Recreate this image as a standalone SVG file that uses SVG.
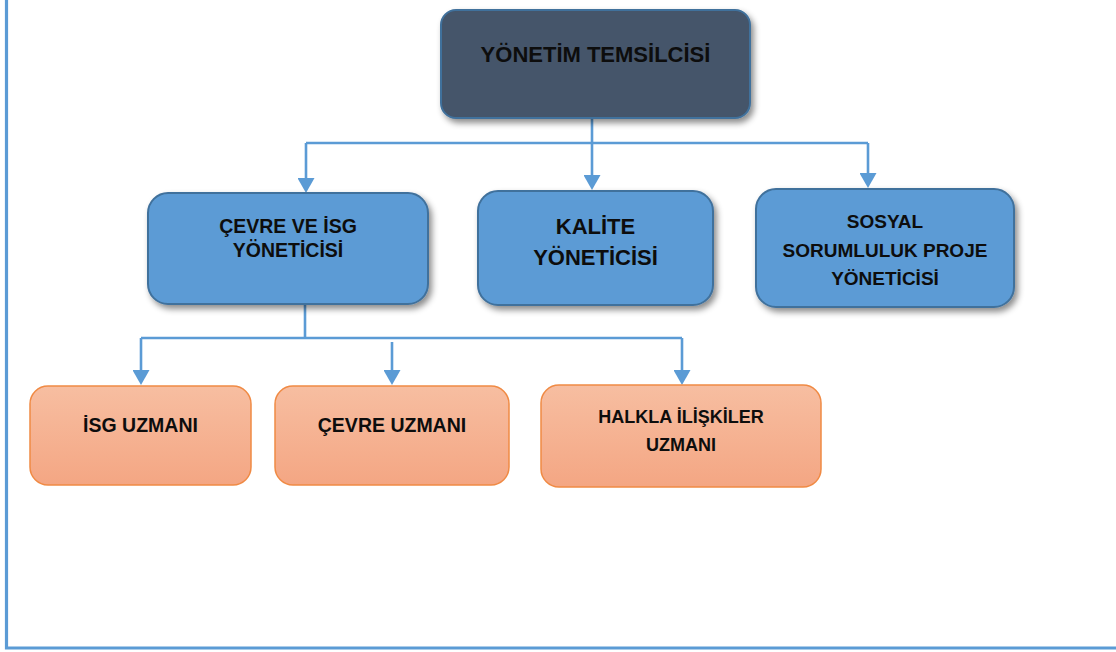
<svg xmlns="http://www.w3.org/2000/svg" width="1116" height="652" viewBox="0 0 1116 652">
<style>
.t{font-family:"Liberation Sans",Arial,sans-serif;font-weight:bold;fill:#0d0d0d;text-anchor:middle}
.blue{fill:#5b9bd5;stroke:#41719c;stroke-width:2}
.dark{fill:#44546a;stroke:#41719c;stroke-width:2}
.orange{fill:url(#og);stroke:#f08a44;stroke-width:1.5}
.c{fill:none;stroke:#5b9bd5;stroke-width:2.6}
.frame{fill:none;stroke:#5b9bd5;stroke-width:3.2}
</style>
<defs>
<linearGradient id="og" x1="0" y1="0" x2="0" y2="1">
<stop offset="0" stop-color="#f7bea1"/>
<stop offset="1" stop-color="#f4a683"/>
</linearGradient>
<filter id="sh" x="-10%" y="-10%" width="125%" height="135%">
<feDropShadow dx="3" dy="4" stdDeviation="3" flood-color="#000" flood-opacity="0.45"/>
</filter>
<marker id="ah" viewBox="0 0 15 17" refX="5" refY="8.5" markerWidth="15" markerHeight="17" markerUnits="userSpaceOnUse" orient="auto">
<path d="M0,0 L15,8.5 L0,17 z" fill="#5b9bd5"/>
</marker>
</defs>
<rect width="1116" height="652" fill="#ffffff"/>
<path class="frame" d="M6.5 0 V648 H1116"/>
<g id="connectors">
<path class="c" d="M592 118 V180" marker-end="url(#ah)"/>
<path class="c" d="M306 143 H868"/>
<path class="c" d="M306 143 V183" marker-end="url(#ah)"/>
<path class="c" d="M868 143 V178" marker-end="url(#ah)"/>
<path class="c" d="M305 304 V338"/>
<path class="c" d="M141 338 H682"/>
<path class="c" d="M141 338 V375" marker-end="url(#ah)"/>
<path class="c" d="M392 342 V375" marker-end="url(#ah)"/>
<path class="c" d="M682 338 V375" marker-end="url(#ah)"/>
</g>
<g id="yonetim-temsilcisi">
<rect class="dark" x="441" y="10" width="309" height="108" rx="15" filter="url(#sh)"/>
<text class="t" x="595.5" y="62" font-size="22">YÖNETİM TEMSİLCİSİ</text>
</g>
<g id="cevre-isg-yoneticisi">
<rect class="blue" x="148" y="193" width="280" height="111" rx="20" filter="url(#sh)"/>
<text class="t" x="288" y="233" font-size="19.5">ÇEVRE VE İSG</text>
<text class="t" x="288" y="257" font-size="19.5">YÖNETİCİSİ</text>
</g>
<g id="kalite-yoneticisi">
<rect class="blue" x="478" y="191" width="235" height="114" rx="20" filter="url(#sh)"/>
<text class="t" x="595.5" y="234" font-size="22">KALİTE</text>
<text class="t" x="595.5" y="265" font-size="22">YÖNETİCİSİ</text>
</g>
<g id="sosyal-sorumluluk">
<rect class="blue" x="756" y="189" width="258" height="118" rx="20" filter="url(#sh)"/>
<text class="t" x="885" y="228" font-size="19">SOSYAL</text>
<text class="t" x="885" y="257" font-size="19">SORUMLULUK PROJE</text>
<text class="t" x="885" y="285" font-size="19">YÖNETİCİSİ</text>
</g>
<g id="isg-uzmani">
<rect class="orange" x="30" y="386" width="221" height="99" rx="18"/>
<text class="t" x="140.5" y="432" font-size="19.5">İSG UZMANI</text>
</g>
<g id="cevre-uzmani">
<rect class="orange" x="275" y="386" width="234" height="99" rx="18"/>
<text class="t" x="392" y="432" font-size="19.5">ÇEVRE UZMANI</text>
</g>
<g id="halkla-iliskiler-uzmani">
<rect class="orange" x="541" y="385" width="280" height="102" rx="18"/>
<text class="t" x="681" y="423" font-size="18">HALKLA İLİŞKİLER</text>
<text class="t" x="681" y="451" font-size="18">UZMANI</text>
</g>
</svg>
